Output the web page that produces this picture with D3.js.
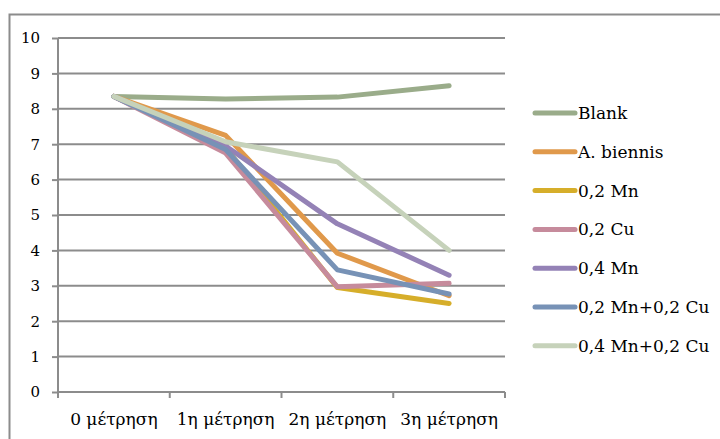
<!DOCTYPE html>
<html>
<head>
<meta charset="utf-8">
<script src="https://cdn.jsdelivr.net/npm/d3@7"></script>
<style>
  html, body { margin: 0; padding: 0; background: #fff; }
  svg { display: block; }
</style>
</head>
<body>
<svg id="chart" width="720" height="439"></svg>
<script>
// Measurements (μέτρηση 0–3) for each treatment
const categories = ["0 μέτρηση", "1η μέτρηση", "2η μέτρηση", "3η μέτρηση"];
const seriesNames = ["Blank", "A. biennis", "0,2 Mn", "0,2 Cu", "0,4 Mn", "0,2 Mn+0,2 Cu", "0,4 Mn+0,2 Cu"];
const blank      = [8.35, 8.28, 8.33, 8.65];
const aBiennis   = [8.35, 7.25, 3.92, 2.72];
const mn02       = [8.35, 6.90, 2.95, 2.50];
const cu02       = [8.35, 6.75, 2.97, 3.07];
const mn04       = [8.35, 6.95, 4.75, 3.30];
const mn02cu02   = [8.35, 6.85, 3.45, 2.77];
const mn04cu02   = [8.35, 7.07, 6.50, 4.00];
const yTicks     = [0, 1, 2, 3, 4, 5, 6, 7, 8, 9, 10];
const colors     = ["#9AAC8A", "#E0994B", "#D6AE2A", "#C68B9C", "#9482B6", "#7792B6", "#C6D2BA"];

const FONT = "'DejaVu Serif', serif";

const seriesValues = [blank, aBiennis, mn02, cu02, mn04, mn02cu02, mn04cu02];
const series = seriesNames.map((name, i) => ({ name, values: seriesValues[i], color: colors[i] }));

const svg = d3.select("#chart");

// outer chart frame
svg.append("rect")
  .attr("x", 9.5).attr("y", 14.5)
  .attr("width", 760).attr("height", 460)
  .attr("fill", "none").attr("stroke", "#8c8c8c").attr("stroke-width", 2);

const plot = { left: 58, right: 505, top: 38, bottom: 392 };

const x = d3.scaleBand().domain(categories).range([plot.left, plot.right]);
const y = d3.scaleLinear().domain([0, 10]).range([plot.bottom, plot.top]);

// horizontal gridlines
svg.append("g")
  .selectAll("line")
  .data(yTicks.filter(d => d > 0))
  .join("line")
  .attr("x1", plot.left).attr("x2", plot.right)
  .attr("y1", d => y(d)).attr("y2", d => y(d))
  .attr("stroke", "#8c8c8c").attr("stroke-width", 2);

// y axis
const yAxis = svg.append("g")
  .attr("transform", `translate(${plot.left},0)`)
  .call(d3.axisLeft(y).tickValues(yTicks).tickSize(6).tickPadding(12).tickFormat(d3.format("d")));
yAxis.attr("font-family", null).attr("font-size", null);
yAxis.select(".domain").attr("stroke", "#8c8c8c").attr("stroke-width", 2).attr("d", `M0,${plot.top}V${plot.bottom}`);
yAxis.selectAll(".tick line").attr("stroke", "#8c8c8c").attr("stroke-width", 2);
yAxis.selectAll(".tick text")
  .attr("font-family", FONT).attr("font-size", 15).attr("fill", "#000");

// x axis with ticks on category boundaries
const xAxisG = svg.append("g").attr("transform", `translate(0,${plot.bottom})`);
xAxisG.append("line")
  .attr("x1", plot.left).attr("x2", plot.right)
  .attr("stroke", "#8c8c8c").attr("stroke-width", 2);
const boundaries = categories.map(c => x(c)).concat([x(categories[categories.length - 1]) + x.bandwidth()]);
xAxisG.selectAll("line.tk")
  .data(boundaries)
  .join("line").attr("class", "tk")
  .attr("x1", d => d).attr("x2", d => d)
  .attr("y1", 0).attr("y2", 6)
  .attr("stroke", "#8c8c8c").attr("stroke-width", 2);
xAxisG.selectAll("text")
  .data(categories)
  .join("text")
  .attr("x", d => x(d) + x.bandwidth() / 2)
  .attr("y", 33)
  .attr("text-anchor", "middle")
  .attr("font-family", FONT).attr("font-size", 17)
  .text(d => d);

// series lines
const line = d3.line()
  .x((d, i) => x(categories[i]) + x.bandwidth() / 2)
  .y(d => y(d));

svg.append("g")
  .selectAll("path")
  .data(series)
  .join("path")
  .attr("d", d => line(d.values))
  .attr("fill", "none")
  .attr("stroke", d => d.color)
  .attr("stroke-width", 5)
  .attr("stroke-linejoin", "round")
  .attr("stroke-linecap", "round");

// legend
const legend = svg.append("g").attr("transform", "translate(535,113)");
const rows = legend.selectAll("g")
  .data(series)
  .join("g")
  .attr("transform", (d, i) => `translate(0,${i * 38.8})`);
rows.append("line")
  .attr("x1", 0).attr("x2", 40)
  .attr("stroke", d => d.color)
  .attr("stroke-width", 5)
  .attr("stroke-linecap", "round");
rows.append("text")
  .attr("x", 43).attr("y", 6)
  .attr("font-family", FONT).attr("font-size", 17)
  .text(d => d.name);
</script>
</body>
</html>
